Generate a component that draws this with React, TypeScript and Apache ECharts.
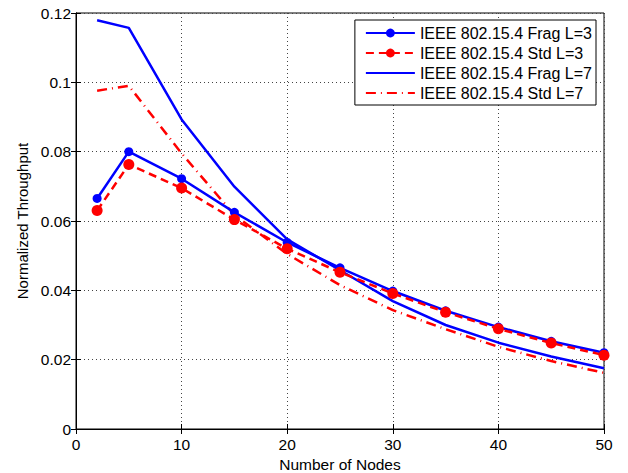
import React, { useEffect, useRef } from "react";
import * as echarts from "echarts";

const nodes = [2, 5, 10, 15, 20, 25, 30, 35, 40, 45, 50];
const fragL3 = [0.0665, 0.0800, 0.0722, 0.0625, 0.0538, 0.0465, 0.0398, 0.0341, 0.0294, 0.0253, 0.0220];
const stdL3 = [0.0630, 0.0763, 0.0695, 0.0604, 0.0520, 0.0452, 0.0391, 0.0337, 0.0289, 0.0248, 0.0213];
const fragL7 = [0.1179, 0.1157, 0.0893, 0.0699, 0.0547, 0.0458, 0.0369, 0.0300, 0.0249, 0.0209, 0.0175];
const stdL7 = [0.0976, 0.0990, 0.0795, 0.0617, 0.0505, 0.0415, 0.0343, 0.0288, 0.0237, 0.0196, 0.0162];
const seriesNames = [
  "IEEE 802.15.4 Frag L=3",
  "IEEE 802.15.4 Std L=3",
  "IEEE 802.15.4 Frag L=7",
  "IEEE 802.15.4 Std L=7",
];

const FONT = "Liberation Sans, Arial, Helvetica, sans-serif";

export default function App() {
  const ref = useRef<HTMLDivElement>(null);
  useEffect(() => {
    if (!ref.current) return;
    const chart = echarts.init(ref.current, null, { renderer: "svg" });
    const pair = (ys: number[]) => nodes.map((x, i) => [x, ys[i]]);
    const gridLine = { show: true, lineStyle: { color: "#444", type: [1, 3], width: 1 } };
    const tickStyle = { show: true, inside: true, length: 5, lineStyle: { color: "#000", width: 1 } };
    chart.setOption({
      animation: false,
      backgroundColor: "#fff",
      textStyle: { fontFamily: FONT },
      grid: {
        left: 76,
        right: 24,
        top: 13,
        bottom: 44,
        outerBoundsMode: "none",
        containLabel: false,
        show: true,
        borderColor: "#000",
        borderWidth: 1,
        backgroundColor: "transparent",
      },
      legend: {
        orient: "vertical",
        right: 32,
        top: 20,
        itemWidth: 49,
        itemHeight: 11,
        itemGap: 4,
        padding: [5, 4, 4, 10],
        backgroundColor: "#fff",
        borderColor: "#000",
        borderWidth: 1,
        borderRadius: 0,
        textStyle: { fontFamily: FONT, fontSize: 16, color: "#000" },
        data: [
          { name: seriesNames[0] },
          { name: seriesNames[1] },
          { name: seriesNames[2], itemStyle: { opacity: 0 } },
          { name: seriesNames[3], itemStyle: { opacity: 0 } },
        ],
      },
      xAxis: [
        {
          type: "value",
          min: 0,
          max: 50,
          interval: 10,
          name: "Number of Nodes",
          nameLocation: "middle",
          nameGap: 22,
          nameTextStyle: { fontFamily: FONT, fontSize: 15.5, color: "#000" },
          axisLine: { show: true, lineStyle: { color: "#000", width: 1 } },
          axisTick: tickStyle,
          axisLabel: { fontFamily: FONT, fontSize: 15.5, color: "#000", margin: 7 },
          splitLine: gridLine,
        },
        {
          type: "value",
          position: "top",
          min: 0,
          max: 50,
          interval: 10,
          axisLine: { show: true, lineStyle: { color: "#000", width: 1 } },
          axisTick: tickStyle,
          axisLabel: { show: false },
          splitLine: { show: false },
        },
      ],
      yAxis: [
        {
          type: "value",
          min: 0,
          max: 0.12,
          interval: 0.02,
          name: "Normalized Throughput",
          nameLocation: "middle",
          nameGap: 43,
          nameTextStyle: { fontFamily: FONT, fontSize: 15, color: "#000" },
          axisLine: { show: true, lineStyle: { color: "#000", width: 1 } },
          axisTick: tickStyle,
          axisLabel: { fontFamily: FONT, fontSize: 15.5, color: "#000", margin: 5 },
          splitLine: gridLine,
        },
        {
          type: "value",
          position: "right",
          min: 0,
          max: 0.12,
          interval: 0.02,
          axisLine: { show: true, lineStyle: { color: "#000", width: 1 } },
          axisTick: tickStyle,
          axisLabel: { show: false },
          splitLine: { show: false },
        },
      ],
      series: [
        {
          name: seriesNames[0],
          type: "line",
          data: pair(fragL3),
          symbol: "circle",
          symbolSize: 9,
          color: "#0000ff",
          lineStyle: { color: "#0000ff", width: 2.5, type: "solid" },
          itemStyle: { color: "#0000ff" },
          z: 4,
        },
        {
          name: seriesNames[1],
          type: "line",
          data: pair(stdL3),
          symbol: "circle",
          symbolSize: 11,
          color: "#ff0000",
          lineStyle: { color: "#ff0000", width: 2.5, type: [8, 5] },
          itemStyle: { color: "#ff0000" },
          z: 5,
        },
        {
          name: seriesNames[2],
          type: "line",
          data: pair(fragL7),
          symbol: "none",
          color: "#0000ff",
          lineStyle: { color: "#0000ff", width: 2.5, type: "solid" },
          itemStyle: { color: "#0000ff" },
          z: 3,
        },
        {
          name: seriesNames[3],
          type: "line",
          data: pair(stdL7),
          symbol: "none",
          color: "#ff0000",
          lineStyle: { color: "#ff0000", width: 2.5, type: [10, 5, 1, 5] },
          itemStyle: { color: "#ff0000" },
          z: 3,
        },
      ],
    });
    return () => chart.dispose();
  }, []);
  return (
    <div
      ref={ref}
      style={{ position: "fixed", left: 0, top: 0, width: 628, height: 473, background: "#fff" }}
    />
  );
}
